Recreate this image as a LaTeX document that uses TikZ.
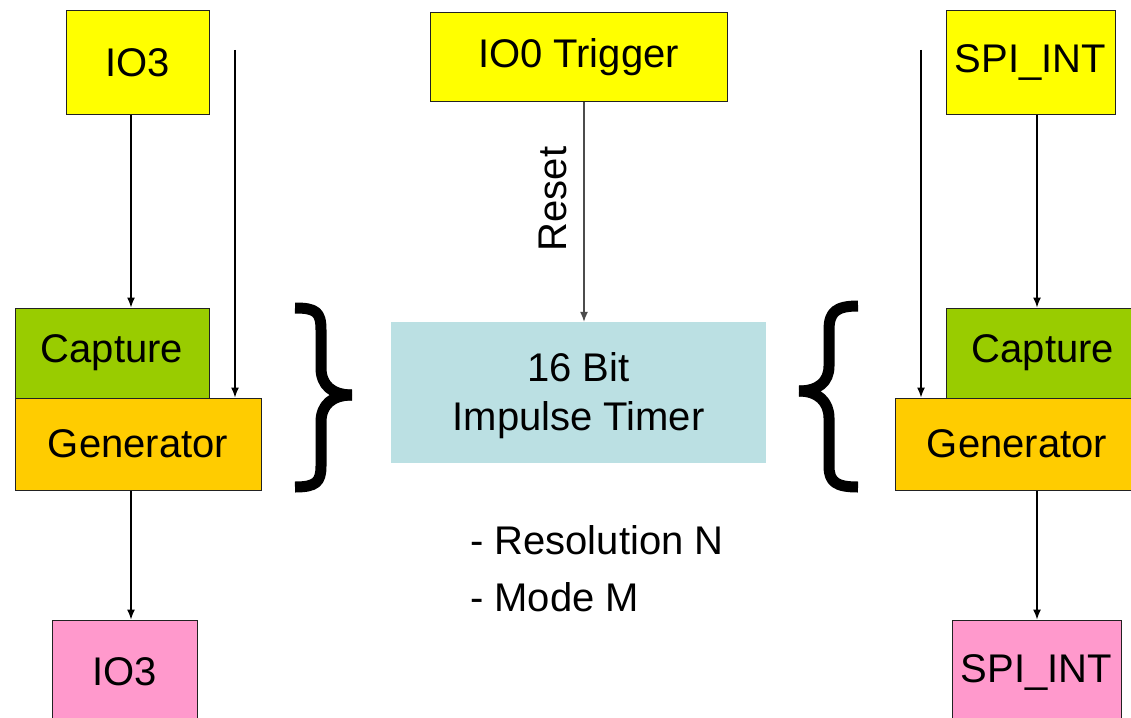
\documentclass[tikz,border=0pt]{standalone}
\usepackage{fontspec}
\setmainfont{Liberation Sans}
\usetikzlibrary{arrows.meta}
\definecolor{cyel}{HTML}{FFFF00}
\definecolor{cgrn}{HTML}{99CC00}
\definecolor{corg}{HTML}{FFCC00}
\definecolor{cpnk}{HTML}{FF99CC}
\definecolor{cteal}{HTML}{BBE0E3}
\definecolor{cedge}{HTML}{222222}
\begin{document}
\begin{tikzpicture}[x=1pt,y=-1pt,
  box/.style={draw=cedge,line width=1pt,rectangle,inner sep=0pt,font=\fontsize{40}{48}\selectfont},
  plain/.style={inner sep=0pt,font=\fontsize{40}{48}\selectfont},
  conn/.style={line width=1.3pt,-{Latex[length=10pt,width=8pt]}},
  bracestyle/.style={line width=11pt,line cap=butt,line join=round}]
\useasboundingbox (0,0) rectangle (1131,717);
\fill[white] (0,0) rectangle (1131,717);
% left column
\node[box,fill=cyel,minimum width=143pt,minimum height=103pt] (io3t) at (137.5,62.5) {IO3};
\node[box,fill=cgrn,minimum width=194pt,minimum height=90pt] (capl) at (112,353) {Capture};
\node[box,fill=corg,minimum width=246pt,minimum height=92pt] (genl) at (138,444) {Generator};
\node[box,fill=cpnk,minimum width=145pt,minimum height=104pt] (io3b) at (124.5,672) {IO3};
\coordinate (vl) at (235,50);
\draw[conn] (io3t.south -| 131,0) -- (capl.north -| 131,0);
\draw[conn] (vl) -- (vl |- genl.north);
\draw[conn] (genl.south -| 131,0) -- (io3b.north -| 131,0);
% centre
\node[box,fill=cyel,minimum width=297pt,minimum height=89pt] (trig) at (578.5,57) {IO0 Trigger};
\node[plain,fill=cteal,minimum width=375pt,minimum height=141pt] (timer) at (578.5,392.5) {};
\node[plain,align=center] (timertext) at (578.5,396) {16 Bit\\[1pt]Impulse Timer};
\draw[conn,draw=black!70] (trig.south -| 584,0) -- (timer.north -| 584,0);
\node[plain,rotate=90] (reset) at (553,199) {Reset};
\node[plain,anchor=west] (res) at (470,540) {- Resolution N};
\node[plain,anchor=west] (mode) at (470,597) {- Mode M};
% braces
\draw[bracestyle] (295,308) .. controls (316,308) and (321,312) .. (321,330) -- (321,368) .. controls (321,385) and (332,395) .. (352,395);
\draw[bracestyle] (352,395) .. controls (332,395) and (321,405) .. (321,422) -- (321,466) .. controls (321,482) and (316,487) .. (295,487);
\draw[bracestyle] (858,306) .. controls (836,306) and (829,312) .. (829,330) -- (829,366) .. controls (829,382) and (818,391) .. (799,391);
\draw[bracestyle] (799,391) .. controls (818,391) and (829,402) .. (829,418) -- (829,466) .. controls (829,482) and (836,487) .. (858,487);
% right column
\node[box,fill=cyel,minimum width=169pt,minimum height=103pt] (spit) at (1030.5,62.5) {SPI\_INT};
\node[box,fill=cgrn,minimum width=194pt,minimum height=90pt] (capr) at (1043,353) {Capture};
\node[box,fill=corg,minimum width=244pt,minimum height=92pt] (genr) at (1017,444) {Generator};
\node[box,fill=cpnk,minimum width=169pt,minimum height=104pt] (spib) at (1036.5,672) {SPI\_INT};
\coordinate (vr) at (921,50);
\draw[conn] (spit.south -| 1037,0) -- (capr.north -| 1037,0);
\draw[conn] (vr) -- (vr |- genr.north);
\draw[conn] (genr.south -| 1037,0) -- (spib.north -| 1037,0);
\end{tikzpicture}
\end{document}
